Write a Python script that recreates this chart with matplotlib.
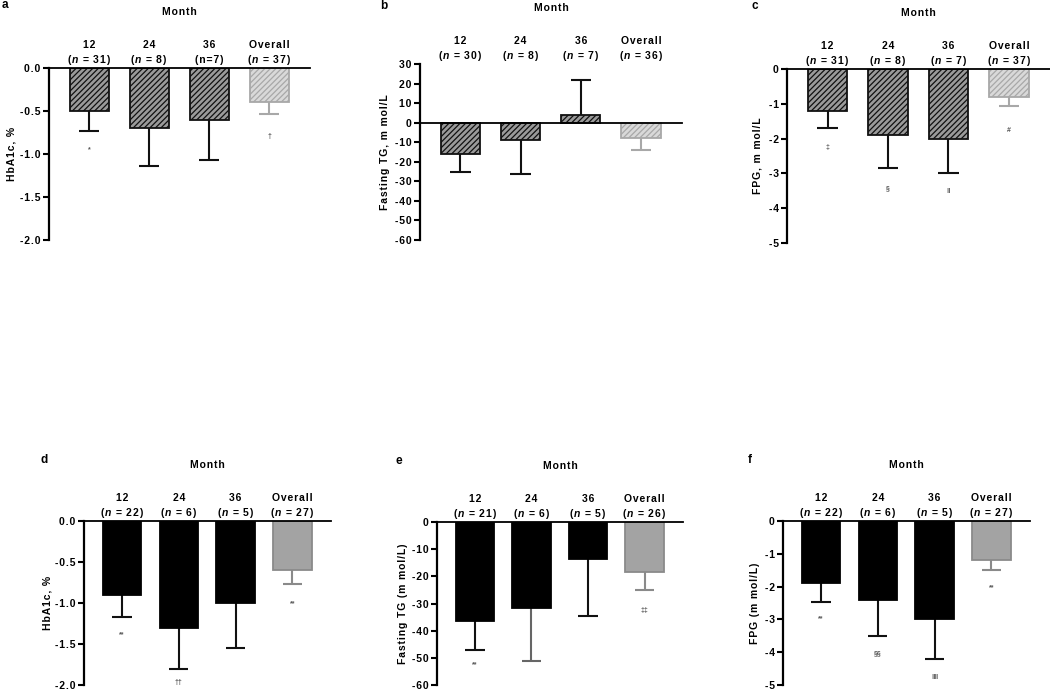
import matplotlib
matplotlib.use('Agg')
import matplotlib.pyplot as plt
import numpy as np

plt.rcParams['font.family'] = ['Liberation Sans', 'DejaVu Sans']
plt.rcParams['font.weight'] = 'bold'
plt.rcParams['axes.unicode_minus'] = False
plt.rcParams['hatch.linewidth'] = 0.9
plt.rcParams['mathtext.fontset'] = 'custom'
plt.rcParams['mathtext.it'] = 'Liberation Sans:italic:bold'
plt.rcParams['mathtext.rm'] = 'Liberation Sans:bold'

months = ['12', '24', '36', 'Overall']

# top row: a, b, c
n_top = ['($n$ = 31)', '($n$ = 8)', '(n=7)', '($n$ = 37)']
n_top_tg = ['($n$ = 30)', '($n$ = 8)', '($n$ = 7)', '($n$ = 36)']
n_top_fpg = ['($n$ = 31)', '($n$ = 8)', '($n$ = 7)', '($n$ = 37)']

hba1c_top = [-0.5, -0.7, -0.6, -0.4]
hba1c_top_err = [0.23, 0.44, 0.47, 0.14]
hba1c_top_sig = ['*', '', '', '†']
hba1c_top_sig_y = [-0.95, 0, 0, -0.80]

tg_top = [-16, -9, 4, -8]
tg_top_err = [9, 17, 18, 6]

fpg_top = [-1.2, -1.9, -2.0, -0.8]
fpg_top_err = [0.5, 0.95, 1.0, 0.25]
fpg_top_sig = ['‡', '§', '‖', '#']
fpg_top_sig_y = [-2.27, -3.45, -3.53, -1.78]

# bottom row: d, e, f
n_bot = ['($n$ = 22)', '($n$ = 6)', '($n$ = 5)', '($n$ = 27)']
n_bot_tg = ['($n$ = 21)', '($n$ = 6)', '($n$ = 5)', '($n$ = 26)']

hba1c_bot = [-0.9, -1.3, -1.0, -0.6]
hba1c_bot_err = [0.27, 0.51, 0.55, 0.17]
hba1c_bot_sig = ['**', '††', '', '**']
hba1c_bot_sig_y = [-1.39, -1.97, 0, -1.01]

tg_bot = [-36.5, -31.5, -13.5, -18.5]
tg_bot_err = [10.5, 19.5, 21, 6.5]
tg_bot_sig = ['**', '', '', '‡‡']
tg_bot_sig_y = [-52.6, 0, 0, -32.4]

fpg_bot = [-1.9, -2.4, -3.0, -1.2]
fpg_bot_err = [0.57, 1.1, 1.2, 0.3]
fpg_bot_sig = ['**', '§§', '‖‖', '**']
fpg_bot_sig_y = [-2.99, -4.05, -4.76, -2.04]

W, H = 1050, 690
fig = plt.figure(figsize=(W / 100, H / 100), dpi=100)

HS = '\u200a'  # hair space, mimics the wide letter spacing of the original


def spaced(s):
    # space out letters, leave $...$ parts alone
    parts = s.split('$')
    out = []
    for i, p in enumerate(parts):
        if i % 2 == 1:
            out.append('$\\mathit{' + p + '}$')
        else:
            out.append(HS.join(p))
    return HS.join(o for o in out if o)


def make_axes(left, right, top, bottom):
    return fig.add_axes([left / W, 1 - bottom / H, (right - left) / W, (bottom - top) / H])


def panel(box, letter, letter_xy, ylab, ylab_x, vals, errs, nlabels, ylim, yticks, fmt,
          hatched, sig=None, sig_y=None, err_colors=None):
    left, right, top, bottom = box
    ax = make_axes(left, right, top, bottom)
    x = np.arange(len(vals))
    vals = np.array(vals, dtype=float)
    errs = np.array(errs, dtype=float)
    ends = vals + np.sign(vals) * errs

    if hatched:
        faces = ['#9a9a9a'] * 3 + ['#d9d9d9']
        edges = ['#111111'] * 3 + ['#a8a8a8']
        hatch = '//////'
        width = 0.65
    else:
        faces = ['#000000'] * 3 + ['#a3a3a3']
        edges = ['#000000'] * 3 + ['#8a8a8a']
        hatch = None
        width = 0.68
    if err_colors is None:
        err_colors = ['#111111'] * 3 + [edges[3]]

    ax.vlines(x, vals, ends, colors=err_colors, lw=1.5, zorder=1)
    ax.hlines(ends, x - 0.17, x + 0.17, colors=err_colors, lw=1.5, zorder=1)
    ax.bar(x, vals, width=width, color=faces, edgecolor=edges, hatch=hatch,
           linewidth=1.3, zorder=2)
    ax.axhline(0, color='black', lw=1.3, zorder=3, clip_on=False)

    ax.set_xlim(-0.67, 3.68)
    ax.set_ylim(*ylim)
    ax.set_yticks(yticks)
    ax.set_yticklabels([spaced(fmt % t) for t in yticks])
    ax.set_xticks([])
    for s in ['top', 'right', 'bottom']:
        ax.spines[s].set_visible(False)
    ax.spines['left'].set_linewidth(1.6)
    ax.spines['left'].set_bounds(ylim[0], ylim[1])
    ax.tick_params(axis='y', length=4, width=1.5, labelsize=7.5, pad=2)
    for t in ax.get_yticklabels():
        t.set_fontweight('bold')

    # category labels above the bars
    for xi, m, n in zip(x, months, nlabels):
        ax.annotate(spaced(m), xy=(xi, 1), xycoords=('data', 'axes fraction'),
                    xytext=(0, 16.5), textcoords='offset points', ha='center',
                    va='center', fontsize=7.5, fontweight='bold')
        ax.annotate(spaced(n), xy=(xi, 1), xycoords=('data', 'axes fraction'),
                    xytext=(0, 5.8), textcoords='offset points', ha='center',
                    va='center', fontsize=7.5, fontweight='bold')
    ax.annotate(spaced('Month'), xy=(0.5, 1), xycoords='axes fraction',
                xytext=(0, 40), textcoords='offset points', ha='center',
                va='center', fontsize=7.5, fontweight='bold')

    if sig is not None:
        for xi, s, sy in zip(x, sig, sig_y):
            if s:
                ax.text(xi, sy, s, ha='center', va='center', fontsize=5,
                        color='#555555', clip_on=False)

    ax.set_ylabel(spaced(ylab), fontsize=7.5, fontweight='bold')
    ax.yaxis.set_label_coords((ylab_x + 5 - left) / (right - left), 0.5)

    fig.text(letter_xy[0] / W, 1 - letter_xy[1] / H, letter, fontsize=8.5,
             fontweight='bold', ha='left', va='center')
    return ax


panel((49, 310, 68, 240), 'a', (2, 5), 'HbA1c, %', 12, hba1c_top, hba1c_top_err,
      n_top, (-2.0, 0.0), [0.0, -0.5, -1.0, -1.5, -2.0], '%.1f', True,
      hba1c_top_sig, hba1c_top_sig_y)
panel((420, 682, 64, 240), 'b', (380, 6), 'Fasting TG, m mol/L', 385, tg_top, tg_top_err,
      n_top_tg, (-60, 30), list(range(30, -61, -10)), '%d', True)
panel((787, 1050, 69, 243), 'c', (751, 6), 'FPG, m mol/L', 758, fpg_top, fpg_top_err,
      n_top_fpg, (-5, 0), [0, -1, -2, -3, -4, -5], '%d', True,
      fpg_top_sig, fpg_top_sig_y)

panel((84, 331, 521, 685), 'd', (40, 460), 'HbA1c, %', 48, hba1c_bot, hba1c_bot_err,
      n_bot, (-2.0, 0.0), [0.0, -0.5, -1.0, -1.5, -2.0], '%.1f', False,
      hba1c_bot_sig, hba1c_bot_sig_y)
panel((437, 683, 522, 685), 'e', (396, 461), 'Fasting TG (m mol/L)', 403, tg_bot, tg_bot_err,
      n_bot_tg, (-60, 0), list(range(0, -61, -10)), '%d', False,
      tg_bot_sig, tg_bot_sig_y,
      err_colors=['#111111', '#666666', '#111111', '#8a8a8a'])
panel((783, 1030, 521, 685), 'f', (748, 460), 'FPG (m mol/L)', 755, fpg_bot, fpg_bot_err,
      n_bot, (-5, 0), [0, -1, -2, -3, -4, -5], '%d', False,
      fpg_bot_sig, fpg_bot_sig_y)

fig.savefig('out.png', dpi=100)
